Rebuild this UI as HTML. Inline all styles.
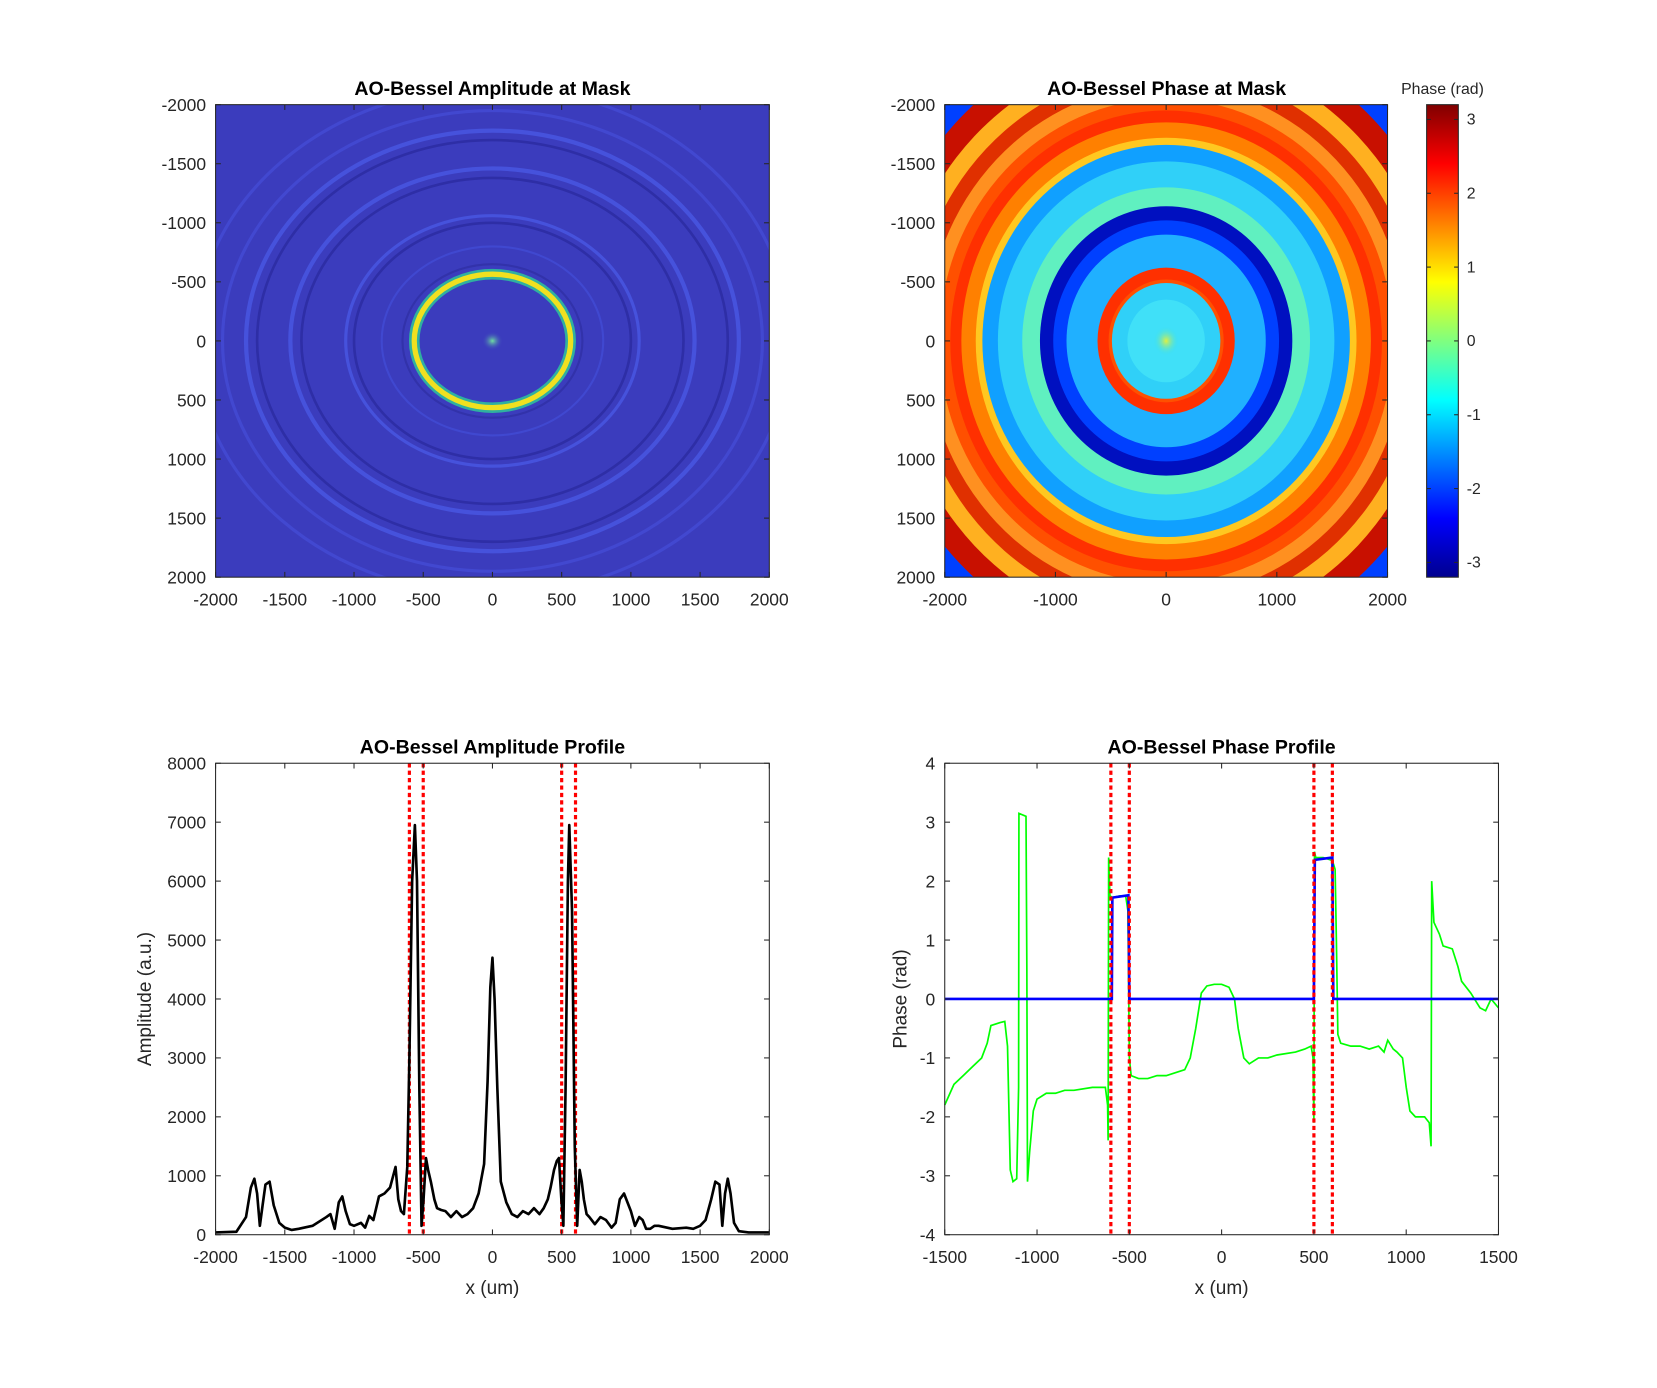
<!DOCTYPE html>
<html><head><meta charset="utf-8"><style>
html,body{margin:0;padding:0;background:#fff;}
svg{display:block;font-family:"Liberation Sans",Arial,sans-serif;}
</style></head><body>
<svg id="fig" width="1657" height="1388" viewBox="0 0 1568 1313" preserveAspectRatio="none" xmlns="http://www.w3.org/2000/svg">
<defs>
<linearGradient id="jet" x1="0" y1="1" x2="0" y2="0">
<stop offset="0" stop-color="#00008f"/><stop offset="0.125" stop-color="#0000ff"/><stop offset="0.375" stop-color="#00ffff"/><stop offset="0.625" stop-color="#ffff00"/><stop offset="0.875" stop-color="#ff0000"/><stop offset="1" stop-color="#800000"/>
</linearGradient>
<clipPath id="c1"><rect x="204" y="99" width="524" height="447"/></clipPath>
<clipPath id="c2"><rect x="894" y="99" width="419" height="447"/></clipPath>
<radialGradient id="spot"><stop offset="0" stop-color="#70e0a0"/><stop offset="1" stop-color="#3a3cc0" stop-opacity="0"/></radialGradient>
<radialGradient id="spot2"><stop offset="0" stop-color="#e0f040"/><stop offset="1" stop-color="#30e0f0" stop-opacity="0"/></radialGradient>
</defs>
<g id="amp-img" clip-path="url(#c1)"></g>
<g id="ph-img" clip-path="url(#c2)"></g>
<rect x="1350" y="99" width="30" height="447" fill="url(#jet)" stroke="#262626"/>
<text x="1365" y="89" font-size="15" text-anchor="middle" fill="#262626">Phase (rad)</text>
<g id="p3"></g>
<g id="p4"></g>
<g id="axes"></g>
</svg>
<script>
const NS="http://www.w3.org/2000/svg";
const ampX=[-2000,-1850,-1780,-1745,-1720,-1700,-1680,-1660,-1640,-1610,-1580,-1540,-1500,-1450,-1400,-1300,-1200,-1170,-1140,-1110,-1085,-1060,-1030,-1000,-950,-920,-890,-860,-820,
-780,-740,-700,-680,-660,-640,-615,-600,-580,-560,-545,-528,-512,-498,-480,-465,
-445,-420,-400,-370,-340,-300,-260,-220,-180,-140,-100,-60,-35,-15,
0,15,35,60,100,140,180,220,260,300,340,370,400,420,445,465,480,498,512,528,545,555,575,595,612,630,645,660,680,700,740,780,820,860,890,920,950,1000,1030,1060,1085,1110,1140,1170,
1200,1300,1400,1450,1500,1540,1580,1610,1640,1660,1680,1700,1720,1745,1780,1850,2000];
const ampY=[40,50,300,800,950,700,150,500,850,900,500,200,120,80,100,150,300,350,100,550,650,400,180,150,200,120,320,250,650,
700,800,1150,600,400,350,1150,3000,6000,6950,6000,2500,150,600,1300,1100,
900,600,450,420,400,300,400,300,350,450,700,1200,2600,4200,
4700,4000,2500,900,550,350,300,400,350,450,350,450,600,800,1100,1250,1300,600,150,2500,6000,6950,5500,1500,150,1100,900,600,350,300,180,300,250,120,200,600,700,400,150,300,250,100,100,150,
150,100,120,100,150,250,600,900,850,150,700,950,700,200,60,40,40];
const phGX=[-1500,-1450,-1400,-1350,-1300,-1270,-1250,-1200,-1175,-1160,-1145,-1130,-1110,-1100,-1098,-1060,-1055,-1052,-1040,-1020,-1000,-950,-900,-850,-800,-700,-630,-618,-615,-612,-605,-590,-550,-520,-508,-500,-490,-450,-400,-350,-300,-250,-200,-170,-140,-110,-80,-40,0,40,70,90,120,150,200,250,300,400,450,485,495,500,503,510,550,600,615,622,630,645,700,750,800,850,880,900,930,950,980,1000,1020,1050,1100,1125,1135,1138,1150,1180,1200,1250,1280,1300,1350,1400,1430,1460,1500];
const phGY=[-1.8,-1.45,-1.3,-1.15,-1.0,-0.75,-0.45,-0.4,-0.38,-0.8,-2.9,-3.1,-3.05,-1.5,3.15,3.1,0.5,-3.1,-2.6,-1.9,-1.7,-1.6,-1.6,-1.55,-1.55,-1.5,-1.5,-1.8,-2.4,2.4,1.75,1.72,1.75,1.75,1.5,-1.0,-1.3,-1.35,-1.35,-1.3,-1.3,-1.25,-1.2,-1.0,-0.5,0.1,0.22,0.25,0.25,0.2,0.0,-0.5,-1.0,-1.1,-1.0,-1.0,-0.95,-0.9,-0.85,-0.8,-1.0,-2.1,2.5,2.4,2.4,2.35,2.2,1.0,-0.6,-0.75,-0.8,-0.8,-0.85,-0.8,-0.9,-0.7,-0.85,-0.9,-1.0,-1.5,-1.9,-2.0,-2.0,-2.1,-2.5,2.0,1.3,1.1,0.9,0.85,0.55,0.3,0.1,-0.15,-0.2,0.0,-0.15];
const phBX=[-1500,-595,-592,-505,-500,500,505,600,605,1500];
const phBY=[0,0,1.72,1.76,0,0,2.36,2.4,0,0];
const redLines=[-600,-500,500,600];
const xt1=[-2000,-1500,-1000,-500,0,500,1000,1500,2000];
const yt3=[0,1000,2000,3000,4000,5000,6000,7000,8000];
const xt4=[-1500,-1000,-500,0,500,1000,1500];
const yt4=[-4,-3,-2,-1,0,1,2,3,4];
const xt2=[-2000,-1000,0,1000,2000];
const cbT=[-3,-2,-1,0,1,2,3];

function el(tag,attrs,parent){const e=document.createElementNS(NS,tag);for(const k in attrs)e.setAttribute(k,attrs[k]);parent.appendChild(e);return e;}
const A=document.getElementById('axes');
function axesBox(x0,y0,w,h,name){const r=el('rect',{x:x0,y:y0,width:w,height:h,fill:'none',stroke:'#262626','stroke-width':1},A);}
function xticks(vals,sx,y0,y1,name){vals.forEach(v=>{const x=sx(v);el('line',{x1:x,x2:x,y1:y1,y2:y1-5,stroke:'#262626'},A);el('line',{x1:x,x2:x,y1:y0,y2:y0+5,stroke:'#262626'},A);const t=el('text',{x:x,y:y1+27,'font-size':16.5,'text-anchor':'middle',fill:'#262626'},A);t.textContent=v;});}
function yticks(vals,sy,x0,x1,name,lab){vals.forEach(v=>{const y=sy(v);el('line',{x1:x0,x2:x0+5,y1:y,y2:y,stroke:'#262626'},A);el('line',{x1:x1,x2:x1-5,y1:y,y2:y,stroke:'#262626'},A);const t=el('text',{x:x0-9,y:y+6,'font-size':16.5,'text-anchor':'end',fill:'#262626'},A);t.textContent=lab?lab(v):v;});}
function title(x,y,s,name){const t=el('text',{x:x,y:y,'font-size':18.5,'font-weight':'bold','text-anchor':'middle',fill:'#000'},A);t.textContent=s;}
function label(x,y,s,name,rot){const t=el('text',{x:x,y:y,'font-size':18,'text-anchor':'middle',fill:'#262626'},A);if(rot)t.setAttribute('transform','rotate(-90 '+x+' '+y+')');t.textContent=s;}

// panel 1
const s1x=v=>204+(v+2000)/4000*524, s1y=v=>99+(v+2000)/4000*447;
const g1=document.getElementById('amp-img');
el('rect',{x:204,y:99,width:524,height:447,fill:'#3b3cbd'},g1);
const cx1=s1x(0),cy1=s1y(0),kx1=524/4000,ky1=447/4000;
[[1000,'#2e2ea6',2.5],[1060,'#4652dc',3],[1380,'#2e2ea6',2.5],[1460,'#4652dc',4],[1700,'#2e2ea6',2.5],[1780,'#4652dc',4],[1950,'#4248d0',3],[2150,'#4248d0',3],[800,'#4048d0',2],[650,'#3232aa',2]].forEach(([r,c,w])=>{el('ellipse',{cx:cx1,cy:cy1,rx:r*kx1,ry:r*ky1,fill:'none',stroke:c,'stroke-width':w},g1);});
el('ellipse',{cx:cx1,cy:cy1,rx:565*kx1,ry:565*ky1,fill:'none',stroke:'#2fb0a0','stroke-width':10},g1);
el('ellipse',{cx:cx1,cy:cy1,rx:565*kx1,ry:565*ky1,fill:'none',stroke:'#f0e020','stroke-width':5},g1);
el('ellipse',{cx:cx1,cy:cy1,rx:10,ry:9,fill:'url(#spot)'},g1);
axesBox(204,99,524,447,'amplitude-image-axes');
xticks(xt1,s1x,99,546,'x-tick-label');
yticks(xt1,s1y,204,728,'y-tick-label');
title(466,90,'AO-Bessel Amplitude at Mask','amplitude-image-title');

// panel 2
const s2x=v=>894+(v+2000)/4000*419, s2y=v=>99+(v+2000)/4000*447;
const g2=document.getElementById('ph-img');
el('rect',{x:894,y:99,width:419,height:447,fill:'#ffa020'},g2);
const cx2=s2x(0),cy2=s2y(0),kx2=419/4000,ky2=447/4000;
const rings=[[2900,'#0040ff'],[2650,'#c81000'],[2450,'#ffb020'],[2300,'#e03000'],[2170,'#ff9020'],[2050,'#ff5000'],[1950,'#ff3000'],[1850,'#ff8000'],[1720,'#ffc820'],[1660,'#10a0ff'],[1520,'#30d0f8'],[1300,'#60f0c0'],[1140,'#0010c0'],[1020,'#0040ff'],[900,'#20b0ff'],[620,'#ff3000'],[520,'#ff5000'],[490,'#30d0f8'],[350,'#40e0f8']];
rings.forEach(([r,c])=>{el('ellipse',{cx:cx2,cy:cy2,rx:r*kx2,ry:r*ky2,fill:c},g2);});
el('ellipse',{cx:cx2,cy:cy2,rx:12,ry:14,fill:'url(#spot2)'},g2);
axesBox(894,99,419,447,'phase-image-axes');
xticks(xt2,s2x,99,546,'x-tick-label');
yticks(xt1,s2y,894,1313,'y-tick-label');
title(1104,90,'AO-Bessel Phase at Mask','phase-image-title');
const scb=v=>546-(v+3.2)/6.4*447;
cbT.forEach(v=>{const y=scb(v);el('line',{x1:1350,x2:1354,y1:y,y2:y,stroke:'#262626'},A);el('line',{x1:1380,x2:1376,y1:y,y2:y,stroke:'#262626'},A);const t=el('text',{x:1388,y:y+5,'font-size':15,fill:'#262626'},A);t.textContent=v;});

// panel 3
const s3x=v=>204+(v+2000)/4000*524, s3y=v=>1168-v/8000*446;
const p3=document.getElementById('p3');
redLines.forEach(v=>{const l=el('line',{x1:s3x(v),x2:s3x(v),y1:722,y2:1168,stroke:'#ff0000','stroke-width':3,'stroke-dasharray':'4 3'},p3);});
let d='';ampX.forEach((x,i)=>{d+=(i?'L':'M')+s3x(x).toFixed(1)+' '+s3y(ampY[i]).toFixed(1);});
const ap=el('path',{d:d,fill:'none',stroke:'#000','stroke-width':2.5,'stroke-linejoin':'round'},p3);

axesBox(204,722,524,446,'amplitude-profile-axes');
xticks(xt1,s3x,722,1168,'x-tick-label');
yticks(yt3,s3y,204,728,'y-tick-label');
title(466,713,'AO-Bessel Amplitude Profile','amplitude-profile-title');
label(466,1224,'x (um)','x-axis-title');
label(143,945,'Amplitude (a.u.)','y-axis-title',true);

// panel 4
const s4x=v=>894+(v+1500)/3000*524, s4y=v=>722+(4-v)/8*446;
const p4=document.getElementById('p4');
let dg='';phGX.forEach((x,i)=>{dg+=(i?'L':'M')+s4x(x).toFixed(1)+' '+s4y(phGY[i]).toFixed(1);});
const gp=el('path',{d:dg,fill:'none',stroke:'#00ff00','stroke-width':1.6},p4);

let db='';phBX.forEach((x,i)=>{db+=(i?'L':'M')+s4x(x).toFixed(1)+' '+s4y(phBY[i]).toFixed(1);});
const bp=el('path',{d:db,fill:'none',stroke:'#0000ff','stroke-width':2.5},p4);

redLines.forEach(v=>{const l=el('line',{x1:s4x(v),x2:s4x(v),y1:722,y2:1168,stroke:'#ff0000','stroke-width':3,'stroke-dasharray':'4 3'},p4);});
axesBox(894,722,524,446,'phase-profile-axes');
xticks(xt4,s4x,722,1168,'x-tick-label');
yticks(yt4,s4y,894,1418,'y-tick-label');
title(1156,713,'AO-Bessel Phase Profile','phase-profile-title');
label(1156,1224,'x (um)','x-axis-title');
label(858,945,'Phase (rad)','y-axis-title',true);
</script>
</body></html>
